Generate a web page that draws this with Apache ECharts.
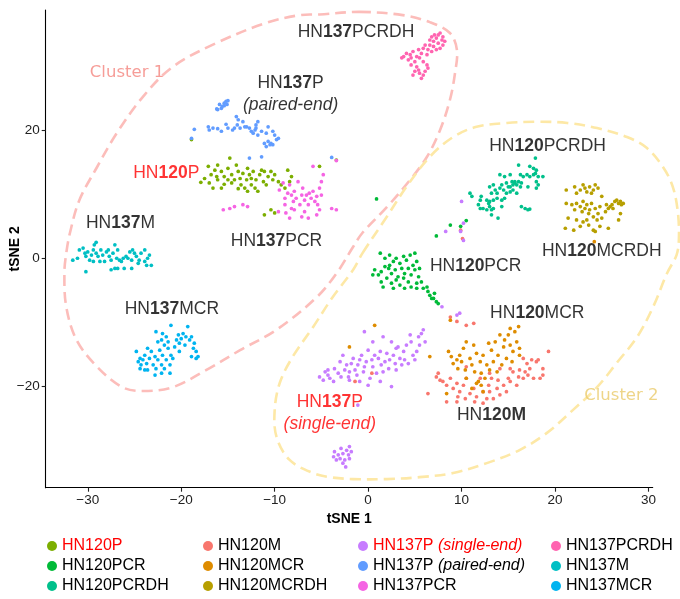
<!DOCTYPE html>
<html><head><meta charset="utf-8">
<script src="https://cdn.jsdelivr.net/npm/echarts@6/dist/echarts.min.js"></script>
<style>html,body{margin:0;padding:0;background:#fff}#c{width:680px;height:599px}</style>
</head><body><div id="c"></div>
<script>
// ---- tick labels ----
const xTicks = [-30, -20, -10, 0, 10, 20, 30];
const yTicks = [-20, 0, 20];

// ---- series values (tSNE 1, tSNE 2) ----
const hn120p = [[-17.1,14.4],[-16.8,13.1],[-16.4,13.8],[-16.2,12.8],[-17.0,11.8],[-17.5,12.5],[-17.9,11.9],[-16.1,14.6],[-15.7,13.6],[-15.4,12.8],[-15.0,14.1],[-14.8,15.7],[-14.6,13.1],[-14.3,12.3],[-14.1,14.6],[-13.9,13.6],[-13.7,12.5],[-13.6,11.5],[-13.4,13.3],[-13.2,11.0],[-13.0,12.3],[-12.9,14.1],[-12.7,13.1],[-12.5,11.5],[-12.3,13.6],[-12.1,11.0],[-12.0,12.3],[-11.8,10.5],[-11.6,13.1],[-11.4,13.8],[-11.2,12.0],[-11.1,13.6],[-10.9,11.5],[-10.7,12.8],[-10.4,13.6],[-10.2,12.3],[-10.0,13.1],[-9.6,12.0],[-9.3,11.5],[-8.9,11.0],[-8.6,13.8],[-8.4,12.0],[-8.2,12.8],[-16.6,11.0],[-15.7,11.0],[-15.4,11.6],[-14.6,11.8],[-13.9,10.9],[-12.9,10.5],[-11.1,6.8],[-10.4,7.6],[-10.0,7.1],[-18.9,18.6],[-3.4,15.4],[-5.2,14.4],[-16.1,12.3],[-15.0,12.3],[-12.5,12.5]];
const hn120pcr = [[1.3,0.8],[1.8,0.0],[2.3,0.5],[2.7,-0.5],[3.0,0.0],[3.4,-0.8],[3.8,0.3],[4.1,-0.3],[4.5,0.5],[5.0,0.8],[5.2,-0.5],[0.7,-1.8],[1.1,-2.6],[1.4,-2.1],[1.8,-1.3],[2.2,-1.6],[2.5,-2.4],[2.9,-1.8],[3.2,-2.9],[3.6,-1.6],[3.9,-2.4],[4.3,-1.6],[4.6,-2.6],[5.0,-1.8],[5.4,-2.9],[5.5,-1.6],[1.4,-3.7],[2.0,-3.1],[2.5,-3.9],[3.0,-3.4],[3.4,-4.2],[3.8,-3.1],[4.3,-3.7],[4.6,-4.5],[5.2,-3.9],[5.7,-3.7],[2.7,-4.7],[3.9,-4.7],[5.2,-4.7],[5.9,-4.7],[6.4,-5.2],[6.6,-5.8],[7.0,-6.3],[7.1,-5.5],[7.3,-6.8],[7.5,-7.1],[6.8,-6.3],[6.3,-4.5],[2.3,-1.1],[4.8,-1.1],[0.5,-2.6],[1.6,-4.5],[0.9,9.3],[8.8,5.2],[10.5,5.9],[7.3,3.5],[9.9,5.0]];
const hn120pcrdh = [[17.9,15.7],[16.1,14.6],[17.3,14.4],[17.7,14.1],[18.0,13.8],[17.9,13.3],[14.1,13.1],[14.6,12.8],[15.2,13.1],[15.4,12.0],[15.7,11.8],[16.1,12.0],[16.3,13.1],[16.4,11.8],[16.6,12.8],[17.0,13.1],[17.3,12.8],[17.7,13.1],[18.2,12.8],[18.7,12.8],[18.0,12.0],[18.2,11.5],[18.0,11.0],[17.1,11.2],[16.3,11.2],[15.9,11.5],[15.5,11.5],[15.0,11.2],[14.8,11.8],[14.3,11.5],[14.1,11.0],[13.8,10.2],[13.4,11.5],[13.0,11.2],[13.2,10.2],[13.6,10.7],[14.5,10.7],[14.8,10.2],[15.2,10.4],[15.5,10.7],[15.9,10.2],[14.6,9.4],[14.3,9.1],[13.8,9.4],[13.4,9.1],[13.0,8.9],[12.7,9.1],[12.1,9.7],[12.0,9.1],[11.8,8.4],[12.3,7.8],[12.7,7.6],[13.0,8.1],[13.2,7.6],[13.4,7.8],[12.9,8.6],[10.9,10.2],[11.1,9.7],[12.0,7.8],[13.2,6.8],[13.9,6.3],[14.3,8.1],[16.4,8.1],[16.8,7.8],[17.1,7.6],[17.3,7.7],[15.2,11.2],[15.7,12.0]];
const hn120m = [[7.3,-18.6],[7.7,-19.1],[7.5,-18.0],[8.0,-19.3],[8.4,-19.9],[8.8,-18.8],[9.1,-20.4],[9.5,-19.6],[9.6,-21.7],[9.8,-20.9],[10.2,-19.9],[10.4,-22.0],[10.5,-18.8],[10.9,-21.2],[11.3,-20.4],[11.4,-22.5],[11.6,-21.7],[12.0,-18.8],[12.3,-20.9],[12.7,-22.0],[12.9,-19.9],[13.0,-20.9],[13.2,-18.8],[13.4,-22.0],[13.8,-20.4],[13.9,-19.1],[14.1,-21.4],[14.5,-19.9],[14.8,-20.9],[15.0,-18.8],[15.2,-19.3],[15.5,-17.8],[15.9,-19.9],[16.1,-18.6],[16.2,-17.5],[16.6,-18.8],[16.8,-17.8],[17.0,-16.5],[17.1,-18.3],[17.3,-17.3],[17.5,-15.9],[17.7,-18.8],[18.0,-16.2],[18.2,-15.9],[18.4,-18.8],[18.7,-17.3],[19.3,-14.6],[16.6,-15.7],[15.2,-17.3],[14.1,-17.3],[13.0,-18.0],[10.5,-17.0],[11.3,-10.2],[10.5,-10.5],[9.5,-9.9],[8.8,-9.2],[0.4,-18.0],[-1.4,-19.3],[6.4,-21.2],[18.7,-18.3],[8.4,-22.5],[9.5,-22.5],[12.3,-22.7],[9.9,4.4],[10.1,3.1]];
const hn120mcr = [[8.8,-9.7],[8.6,-14.6],[8.9,-15.4],[9.1,-16.5],[9.5,-15.9],[9.6,-17.3],[9.8,-15.2],[10.0,-16.2],[10.2,-14.1],[10.4,-17.5],[10.5,-13.1],[10.9,-15.7],[11.1,-16.7],[11.3,-13.6],[11.4,-17.8],[11.6,-14.9],[11.8,-19.3],[12.0,-16.2],[12.1,-18.0],[12.3,-15.2],[12.5,-18.8],[12.7,-16.7],[12.9,-13.3],[13.0,-17.5],[13.2,-14.4],[13.4,-16.2],[13.6,-13.1],[13.8,-17.8],[13.9,-15.2],[14.1,-12.0],[14.3,-16.7],[14.5,-13.9],[14.6,-12.8],[14.8,-15.7],[15.0,-12.0],[15.2,-13.6],[15.4,-16.2],[15.5,-14.6],[15.7,-11.5],[15.9,-13.1],[16.1,-10.7],[16.2,-15.2],[11.6,-19.6],[12.1,-19.9],[11.1,-20.4],[12.3,-20.9],[10.5,-18.8],[8.4,-21.2],[6.6,-15.4],[0.7,-10.5],[-2.0,-13.9],[16.2,-14.1],[15.2,-11.0],[24.2,2.6]];
const hn120mcrdh = [[21.2,10.7],[22.1,11.2],[22.3,10.2],[22.7,10.7],[23.0,11.5],[23.2,11.0],[23.4,10.4],[23.7,11.2],[23.9,10.2],[24.1,10.7],[24.3,11.5],[24.6,11.0],[25.0,9.7],[21.2,8.6],[21.8,8.4],[22.1,7.6],[22.3,8.6],[22.7,8.1],[23.0,8.9],[22.9,7.3],[23.2,7.8],[23.4,8.4],[23.6,7.0],[23.7,7.6],[23.9,8.6],[24.1,6.5],[24.3,7.8],[24.5,6.0],[24.6,7.0],[24.8,8.1],[25.0,6.3],[25.4,7.3],[25.5,8.4],[25.7,7.8],[25.9,8.1],[26.1,8.4],[26.2,7.8],[26.4,8.9],[26.6,9.1],[26.8,8.6],[27.0,8.9],[27.1,8.4],[27.3,8.6],[27.0,7.0],[26.8,6.0],[25.7,4.7],[24.8,5.0],[24.1,4.4],[23.6,5.2],[23.0,5.7],[22.7,5.0],[22.0,4.4],[21.1,4.7],[21.4,6.3],[22.3,6.0],[23.4,6.0],[24.3,4.2]];
const hn137pSingle = [[-5.2,-18.6],[-4.8,-19.1],[-4.6,-17.8],[-4.3,-17.5],[-4.1,-18.8],[-3.7,-19.3],[-3.6,-17.3],[-3.2,-18.0],[-3.0,-16.2],[-2.9,-18.6],[-2.7,-15.2],[-2.5,-17.5],[-2.3,-16.7],[-2.1,-18.6],[-2.0,-17.8],[-1.8,-16.5],[-1.6,-15.7],[-1.4,-17.5],[-1.2,-18.3],[-1.1,-16.7],[-0.9,-15.9],[-0.7,-15.2],[-0.5,-17.8],[-0.4,-17.0],[-0.2,-16.2],[0.0,-14.4],[0.2,-18.8],[0.4,-15.9],[0.5,-17.0],[0.7,-15.2],[0.9,-18.0],[1.1,-15.7],[1.3,-14.6],[1.4,-16.7],[1.6,-17.8],[1.8,-16.2],[2.0,-14.9],[2.2,-17.3],[2.3,-15.9],[2.5,-20.1],[2.7,-15.2],[2.9,-16.5],[3.0,-17.5],[3.2,-13.9],[3.4,-15.7],[3.6,-16.7],[3.8,-14.6],[3.9,-15.9],[4.1,-13.6],[4.3,-16.5],[4.5,-12.0],[4.6,-13.1],[4.8,-15.2],[5.0,-15.9],[5.2,-14.6],[5.4,-12.3],[5.5,-13.6],[5.7,-11.8],[5.9,-11.2],[6.1,-13.1],[0.5,-13.1],[-0.4,-11.5],[1.6,-12.3],[2.5,-13.1],[3.0,-14.1],[0.0,-19.9],[1.3,-19.3],[-2.0,-19.1],[-0.9,-19.3],[-4.3,-18.3],[9.5,-8.9],[9.8,-8.6],[7.9,-7.6],[-3.6,-30.3],[-3.2,-30.8],[-3.0,-31.4],[-2.9,-29.8],[-2.7,-30.6],[-2.5,-31.6],[-2.3,-30.1],[-2.1,-30.8],[-2.0,-31.4],[-1.8,-30.3],[-3.4,-31.6],[-2.7,-32.1],[-2.4,-32.7],[-3.7,-31.1],[-2.0,-29.5],[-1.1,-23.0],[10.0,8.9],[8.3,4.2],[10.2,5.5],[10.2,2.8],[9.9,4.2]];
const hn137pPaired = [[-16.1,23.3],[-15.7,23.5],[-15.9,24.1],[-15.4,24.3],[-15.2,24.6],[-15.0,24.7],[-15.4,23.9],[-16.2,23.4],[-15.6,23.8],[-15.1,24.1],[-18.6,20.2],[-17.1,20.6],[-17.0,20.1],[-16.6,20.4],[-16.1,20.3],[-15.7,19.9],[-15.2,21.0],[-15.0,20.4],[-14.5,20.1],[-14.1,22.2],[-13.9,21.7],[-14.0,20.9],[-13.7,20.4],[-13.4,21.4],[-13.0,20.6],[-12.7,20.4],[-12.5,19.9],[-12.1,20.1],[-12.0,20.9],[-11.8,21.4],[-12.3,19.6],[-11.8,19.3],[-11.4,19.9],[-12.0,20.4],[-10.9,19.6],[-10.7,20.6],[-10.2,19.9],[-10.0,19.3],[-9.8,18.6],[-11.1,18.0],[-10.7,18.3],[-10.4,18.0],[-10.2,17.8],[-10.9,17.5],[-9.6,18.8],[-10.5,17.8],[-18.9,18.8],[-12.7,15.7],[-11.4,15.9],[-3.9,15.8],[-13.2,20.6],[-14.3,20.4]];
const hn137pcr = [[-9.5,10.7],[-9.1,11.8],[-8.9,9.4],[-8.6,10.2],[-8.4,11.5],[-8.2,9.9],[-8.0,8.9],[-7.9,10.5],[-7.7,9.4],[-7.5,12.0],[-7.3,8.4],[-7.1,9.9],[-7.0,11.0],[-6.8,9.1],[-6.6,9.9],[-6.4,8.4],[-6.3,10.2],[-6.1,9.4],[-5.9,10.5],[-5.7,8.9],[-5.5,9.7],[-5.4,8.4],[-5.2,11.0],[-5.0,9.9],[-4.8,13.1],[-5.9,14.4],[-8.9,8.4],[-8.8,7.1],[-8.4,6.3],[-9.6,7.3],[-8.2,7.8],[-6.8,7.3],[-6.4,6.3],[-5.5,6.8],[-5.2,7.6],[-3.9,7.8],[-3.4,7.6],[-15.5,7.6],[-14.8,7.8],[-14.3,8.1],[-13.4,8.4],[-12.9,8.1],[-5.0,12.0],[-7.9,7.6],[-7.1,6.5],[-3.4,15.3]];
const hn137pcrdh = [[3.8,31.6],[4.1,32.1],[3.6,31.4],[4.5,31.9],[4.6,31.4],[4.8,32.4],[5.0,30.8],[5.2,31.6],[5.4,32.7],[5.5,31.4],[5.7,32.1],[5.9,32.9],[5.9,30.8],[6.1,33.4],[6.3,31.9],[6.4,32.7],[6.6,34.2],[6.6,33.4],[6.8,34.7],[7.0,34.0],[7.1,35.0],[7.3,34.5],[7.5,33.7],[7.7,35.3],[7.9,34.2],[8.0,34.7],[8.0,33.4],[8.2,34.0],[7.7,32.9],[7.3,32.7],[6.8,32.4],[6.3,30.3],[5.2,30.0],[5.4,29.5],[5.5,29.0],[5.9,28.7],[5.7,28.2],[6.1,29.3],[5.0,29.3],[4.8,28.7],[6.4,29.8],[4.6,30.3],[4.3,31.1],[7.0,33.2],[7.5,35.0]];
const hn137m = [[-31.6,-0.3],[-31.1,0.0],[-30.9,1.3],[-30.5,1.6],[-30.3,0.8],[-30.2,0.3],[-30.0,1.0],[-29.8,-0.3],[-29.6,0.5],[-29.4,1.3],[-29.3,2.1],[-29.1,2.5],[-29.1,0.8],[-28.9,0.3],[-28.7,-0.5],[-28.6,1.3],[-28.4,0.5],[-28.2,-0.5],[-28.0,1.0],[-27.8,1.3],[-27.7,0.3],[-27.5,-0.3],[-27.3,0.8],[-27.1,2.1],[-26.9,0.0],[-26.8,1.3],[-26.6,-0.3],[-26.4,-0.5],[-26.8,-1.6],[-27.1,-1.6],[-27.5,-1.8],[-26.2,0.0],[-26.1,-1.6],[-25.9,0.3],[-25.7,0.0],[-25.5,1.0],[-25.3,-0.3],[-25.3,-1.6],[-25.2,1.3],[-25.0,0.8],[-24.8,0.3],[-24.6,-0.8],[-24.5,-0.3],[-24.3,0.8],[-23.9,1.3],[-23.9,-0.5],[-23.7,-1.1],[-23.6,0.0],[-23.4,0.5],[-23.2,-1.1],[-30.2,-2.1],[-29.4,-0.5]];
const hn137mcr = [[-24.8,-14.6],[-24.6,-16.2],[-24.4,-15.7],[-24.3,-16.7],[-24.1,-15.9],[-23.9,-15.2],[-23.7,-16.5],[-23.6,-14.1],[-23.6,-17.5],[-23.4,-15.7],[-23.2,-14.6],[-23.0,-16.7],[-22.8,-15.4],[-22.7,-11.5],[-22.7,-17.3],[-22.5,-13.1],[-22.5,-15.9],[-22.3,-14.4],[-22.1,-12.8],[-22.1,-16.7],[-22.0,-11.8],[-22.0,-15.2],[-21.8,-13.6],[-21.8,-17.3],[-21.6,-12.3],[-21.6,-15.9],[-21.4,-14.1],[-21.4,-13.1],[-21.2,-16.7],[-21.1,-10.5],[-21.1,-15.2],[-20.9,-15.7],[-20.7,-13.9],[-20.5,-12.8],[-20.3,-12.0],[-20.2,-13.3],[-20.0,-12.6],[-19.8,-11.8],[-19.6,-13.6],[-19.5,-12.3],[-19.3,-10.7],[-19.1,-12.8],[-18.9,-12.3],[-18.9,-15.4],[-18.7,-14.1],[-18.6,-13.3],[-18.4,-14.6],[-18.2,-15.4],[-18.4,-15.7],[-20.2,-14.6],[-24.4,-17.3],[-23.9,-17.5],[-22.8,-18.3],[-22.1,-18.0],[-21.2,-18.0]];

// ---- cluster outlines (dashed enclosures) ----
const cluster1Outline = [[-0.9,38.6],[3.7,38.1],[6.6,37.0],[8.75,35.3],[9.5,32.65],[9.3,29.05],[8.75,24.8],[7.7,20.1],[6.3,15.9],[4.5,12.3],[2.0,8.0],[-0.6,4.0],[-1.6,1.8],[-3.35,-2.3],[-5.5,-6.1],[-9.8,-11.2],[-13.7,-14.4],[-17.3,-17.5],[-20.9,-20.2],[-24.1,-20.8],[-26.3,-20.2],[-29.0,-17.0],[-31.2,-12.8],[-32.3,-7.6],[-32.5,-2.3],[-32.3,0.8],[-31.9,4.0],[-30.9,9.1],[-29.0,14.3],[-26.9,19.6],[-24.1,25.3],[-20.9,30.0],[-16.2,33.75],[-10.85,36.9],[-7.3,38.1],[-5.2,38.2]];
const cluster2Outline = [[-0.6,0.8],[2.0,6.5],[4.1,11.2],[6.6,15.9],[9.1,19.0],[11.6,20.6],[14.85,21.2],[18.1,21.4],[21.3,21.2],[24.5,20.4],[27.7,19.0],[29.8,17.3],[31.55,14.3],[32.6,11.2],[33.15,7.1],[33.25,2.9],[33.0,0.5],[32.0,-2.3],[30.5,-7.6],[28.8,-12.3],[26.6,-16.4],[24.5,-20.2],[21.9,-23.8],[19.1,-27.4],[16.2,-30.05],[12.7,-32.1],[9.1,-33.65],[5.5,-34.3],[2.0,-34.6],[-1.6,-34.6],[-4.1,-34.3],[-5.9,-33.65],[-8.4,-31.6],[-9.8,-28.0],[-10.0,-23.8],[-9.45,-19.5],[-8.1,-15.5],[-5.9,-10.8],[-3.8,-6.1],[-1.6,-1.8]];

// ---- categories ----
const groupNames = ['HN120M','HN120MCR','HN120MCRDH','HN120P','HN120PCR','HN120PCRDH','HN137M','HN137MCR','HN137P (paired-end)','HN137P (single-end)','HN137PCR','HN137PCRDH'];
const groupData = {
  'HN120M': hn120m, 'HN120MCR': hn120mcr, 'HN120MCRDH': hn120mcrdh,
  'HN120P': hn120p, 'HN120PCR': hn120pcr, 'HN120PCRDH': hn120pcrdh,
  'HN137M': hn137m, 'HN137MCR': hn137mcr, 'HN137P (paired-end)': hn137pPaired,
  'HN137P (single-end)': hn137pSingle, 'HN137PCR': hn137pcr, 'HN137PCRDH': hn137pcrdh
};
const palette = {
  'HN120M':'#F8766D','HN120MCR':'#DE8C00','HN120MCRDH':'#B79F00','HN120P':'#7CAE00',
  'HN120PCR':'#00BA38','HN120PCRDH':'#00C08B','HN137M':'#00BFC4','HN137MCR':'#00B4F0',
  'HN137P (paired-end)':'#619CFF','HN137P (single-end)':'#C77CFF','HN137PCR':'#F564E3','HN137PCRDH':'#FF64B0'
};
const legendColumns = [
  ['HN120P','HN120PCR','HN120PCRDH'],
  ['HN120M','HN120MCR','HN120MCRDH'],
  ['HN137P (single-end)','HN137P (paired-end)','HN137PCR'],
  ['HN137PCRDH','HN137M','HN137MCR']
];

// ---- annotation labels (text and anchor in data units) ----
const annotations = [
  {t:'{n|HN}{b|137}{n|PCRDH}', at:[-1.3,35.5]},
  {t:'{n|HN}{b|137}{n|P}\n{i|(paired-end)}', at:[-8.3,25.7]},
  {t:'{r|HN}{rb|120}{r|P}', at:[-21.6,13.3]},
  {t:'{n|HN}{b|137}{n|M}', at:[-26.5,5.45]},
  {t:'{n|HN}{b|137}{n|PCR}', at:[-9.8,2.6]},
  {t:'{n|HN}{b|137}{n|MCR}', at:[-21.0,-8.0]},
  {t:'{n|HN}{b|120}{n|PCRDH}', at:[19.2,17.5]},
  {t:'{n|HN}{b|120}{n|MCRDH}', at:[25.0,1.1]},
  {t:'{n|HN}{b|120}{n|PCR}', at:[11.5,-1.3]},
  {t:'{n|HN}{b|120}{n|MCR}', at:[18.1,-8.65]},
  {t:'{n|HN}{b|120M}', at:[13.2,-24.6]},
  {t:'{r|HN}{rb|137}{r|P}\n{ri|(single-end)}', at:[-4.1,-24.3]},
  {t:'{c1|Cluster 1}', at:[-25.8,29.1]},
  {t:'{c2|Cluster 2}', at:[27.1,-21.5]}
];

const SANS = 'Liberation Sans, Arial, Helvetica, sans-serif';
const FS = 17.5;
const labelRich = {
  n:{fontFamily:SANS,fontSize:FS,color:'#000',lineHeight:22},
  b:{fontFamily:SANS,fontSize:FS,color:'#000',fontWeight:'bold',lineHeight:22},
  i:{fontFamily:SANS,fontSize:FS,color:'#000',fontStyle:'italic',lineHeight:22},
  r:{fontFamily:SANS,fontSize:FS,color:'#FF0000',lineHeight:22},
  rb:{fontFamily:SANS,fontSize:FS,color:'#FF0000',fontWeight:'bold',lineHeight:22},
  ri:{fontFamily:SANS,fontSize:FS,color:'#FF0000',fontStyle:'italic',lineHeight:22},
  c1:{fontFamily:'DejaVu Sans',fontSize:16.5,color:'#F4847E'},
  c2:{fontFamily:'DejaVu Sans',fontSize:16.5,color:'#EACB6A'}
};
const LFS = 16;
const legendRich = {
  n:{fontFamily:SANS,fontSize:LFS,color:'#000'},
  i:{fontFamily:SANS,fontSize:LFS,color:'#000',fontStyle:'italic'},
  r:{fontFamily:SANS,fontSize:LFS,color:'#FF0000'},
  ri:{fontFamily:SANS,fontSize:LFS,color:'#FF0000',fontStyle:'italic'}
};
function legendFmt(name){
  if (name === 'HN120P') return '{r|HN120P}';
  if (name === 'HN137P (single-end)') return '{r|HN137P }{ri|(single-end)}';
  if (name === 'HN137P (paired-end)') return '{n|HN137P }{i|(paired-end)}';
  return '{n|' + name + '}';
}
const minus = v => (v < 0 ? '\u2212' + Math.abs(v) : String(v));

function outlineSeries(name, outline, color){
  return {
    type:'custom', name:name, silent:true, z:1, clip:false,
    data:[outline[0]],
    renderItem:(params, api) => ({
      type:'polygon',
      shape:{points: outline.map(p => api.coord(p)), smooth:0.35},
      style:{fill:null, stroke:color, lineWidth:2.6, lineDash:[11,6]}
    })
  };
}

const legendX = [47, 203, 358, 551];
const series = [
  outlineSeries('cluster1', cluster1Outline, '#FCBDBA'),
  outlineSeries('cluster2', cluster2Outline, '#FDE8A6')
];
groupNames.forEach(g => {
  series.push({type:'scatter', name:g, data:groupData[g], symbolSize:3.7, z:3,
    itemStyle:{color:palette[g], opacity:1}});
});
series.push({type:'scatter', name:'labels', silent:true, z:5, symbolSize:1,
  itemStyle:{color:'rgba(255,255,255,0)'},
  data: annotations.map(a => ({value:a.at, label:{show:true, formatter:a.t}})),
  label:{show:true, position:'inside', align:'center', verticalAlign:'middle', rich:labelRich}
});

const chart = echarts.init(document.getElementById('c'), null, {renderer:'canvas'});
chart.setOption({
  animation:false,
  backgroundColor:'#fff',
  grid:{left:45.7, right:27.3, top:10, bottom:111.3, containLabel:false, outerBoundsMode:'none'},
  xAxis:{type:'value', min:-34.5, max:30.45, name:'tSNE 1', nameLocation:'middle', nameGap:24, nameMoveOverlap:false,
    nameTextStyle:{fontFamily:SANS, fontWeight:'bold', fontSize:14, color:'#000'},
    axisLine:{show:true, onZero:false, lineStyle:{color:'#000', width:1.1}},
    axisTick:{show:true, length:4, customValues:xTicks, lineStyle:{color:'#222', width:1.1}},
    axisLabel:{customValues:xTicks, formatter:minus, margin:6, fontFamily:SANS, fontSize:13.5, color:'#222'},
    splitLine:{show:false}},
  yAxis:{type:'value', min:-35.95, max:38.9, name:'tSNE 2', nameLocation:'middle', nameGap:24, nameRotate:90, nameMoveOverlap:false,
    nameTextStyle:{fontFamily:SANS, fontWeight:'bold', fontSize:14, color:'#000'},
    axisLine:{show:true, onZero:false, lineStyle:{color:'#000', width:1.1}},
    axisTick:{show:true, length:4, customValues:yTicks, lineStyle:{color:'#222', width:1.1}},
    axisLabel:{customValues:yTicks, formatter:minus, margin:6, fontFamily:SANS, fontSize:13.5, color:'#222'},
    splitLine:{show:false}},
  legend: legendColumns.map((col, i) => ({
    data: col, orient:'vertical', left: legendX[i], top: 536, padding:0,
    itemWidth:10, itemHeight:10, itemGap:0, icon:'circle', selectedMode:false,
    formatter: legendFmt,
    textStyle:{fontFamily:SANS, fontSize:LFS, lineHeight:20, color:'#000', rich:legendRich}
  })),
  series: series
});
</script>
</body></html>
